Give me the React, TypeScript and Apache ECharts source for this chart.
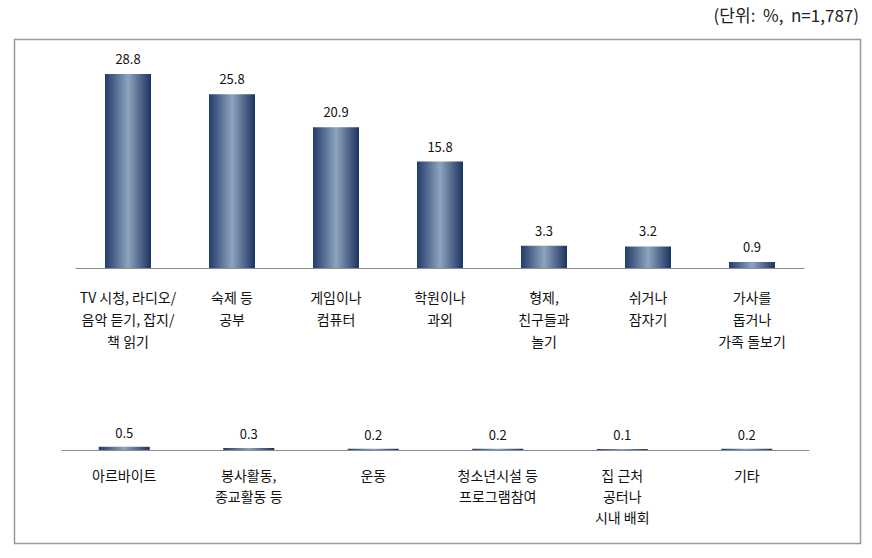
import React, { useEffect, useRef } from "react";
import * as echarts from "echarts";

const topCategories = [
  "TV 시청, 라디오/\n음악 듣기, 잡지/\n책 읽기",
  "숙제 등\n공부",
  "게임이나\n컴퓨터",
  "학원이나\n과외",
  "형제,\n친구들과\n놀기",
  "쉬거나\n잠자기",
  "가사를\n돕거나\n가족 돌보기",
];
const topValues = [28.8, 25.8, 20.9, 15.8, 3.3, 3.2, 0.9];

const bottomCategories = [
  "아르바이트",
  "봉사활동,\n종교활동 등",
  "운동",
  "청소년시설 등\n프로그램참여",
  "집 근처\n공터나\n시내 배회",
  "기타",
];
const bottomValues = [0.5, 0.3, 0.2, 0.2, 0.1, 0.2];

const unitText = "(단위:  %,  n=1,787)";

const FONT = "'Noto Sans CJK KR', 'Noto Sans', sans-serif";

export default function App() {
  const ref = useRef<HTMLDivElement>(null);
  useEffect(() => {
    if (!ref.current) return;
    const chart = echarts.init(ref.current, null, { renderer: "svg" });
    const grad = new echarts.graphic.LinearGradient(0, 0, 1, 0, [
      { offset: 0, color: "#213c6b" },
      { offset: 0.5, color: "#8ea4be" },
      { offset: 1, color: "#1c335f" },
    ]);
    const axisCommon = {
      type: "category" as const,
      axisLine: { lineStyle: { color: "#8c8c8c", width: 1 } },
      axisTick: { inside: true, length: 5, lineStyle: { color: "#8c8c8c" } },
    };
    chart.setOption({
      animation: false,
      textStyle: { fontFamily: FONT },
      graphic: [
        {
          type: "rect",
          shape: { x: 14.5, y: 39.5, width: 846, height: 504 },
          style: { fill: "none", stroke: "#9a9a9a", lineWidth: 1.5 },
        },
        {
          type: "text",
          right: 13,
          top: 6,
          style: { text: unitText, font: `17px ${FONT}`, fill: "#222" },
        },
      ],
      grid: [
        { left: 76, right: 68, top: 66, height: 202 },
        { left: 62, right: 63, top: 416.3, height: 33.7 },
      ],
      xAxis: [
        {
          ...axisCommon,
          gridIndex: 0,
          data: topCategories,
          axisLabel: {
            interval: 0,
            margin: 18,
            fontSize: 14,
            lineHeight: 22,
            color: "#111",
            fontFamily: FONT,
          },
        },
        {
          ...axisCommon,
          gridIndex: 1,
          data: bottomCategories,
          axisLabel: {
            interval: 0,
            margin: 14,
            fontSize: 14,
            lineHeight: 21,
            color: "#111",
            fontFamily: FONT,
          },
        },
      ],
      yAxis: [
        { type: "value", gridIndex: 0, min: 0, max: 30, show: false },
        { type: "value", gridIndex: 1, min: 0, max: 5, show: false },
      ],
      series: [
        {
          type: "bar",
          xAxisIndex: 0,
          yAxisIndex: 0,
          data: topValues,
          barWidth: 46,
          itemStyle: { color: grad },
          label: {
            show: true,
            position: "top",
            distance: 9,
            fontSize: 13,
            color: "#111",
            fontFamily: FONT,
            formatter: (p: any) => p.value.toFixed(1),
          },
        },
        {
          type: "bar",
          xAxisIndex: 1,
          yAxisIndex: 1,
          data: bottomValues,
          barWidth: 51,
          barMinHeight: 1,
          itemStyle: { color: grad },
          label: {
            show: true,
            position: "top",
            distance: 8,
            fontSize: 13,
            color: "#111",
            fontFamily: FONT,
            formatter: (p: any) => p.value.toFixed(1),
          },
        },
      ],
    });
    return () => chart.dispose();
  }, []);
  return (
    <div
      ref={ref}
      style={{ position: "fixed", left: 0, top: 0, width: 872, height: 558, background: "#fff" }}
    />
  );
}
